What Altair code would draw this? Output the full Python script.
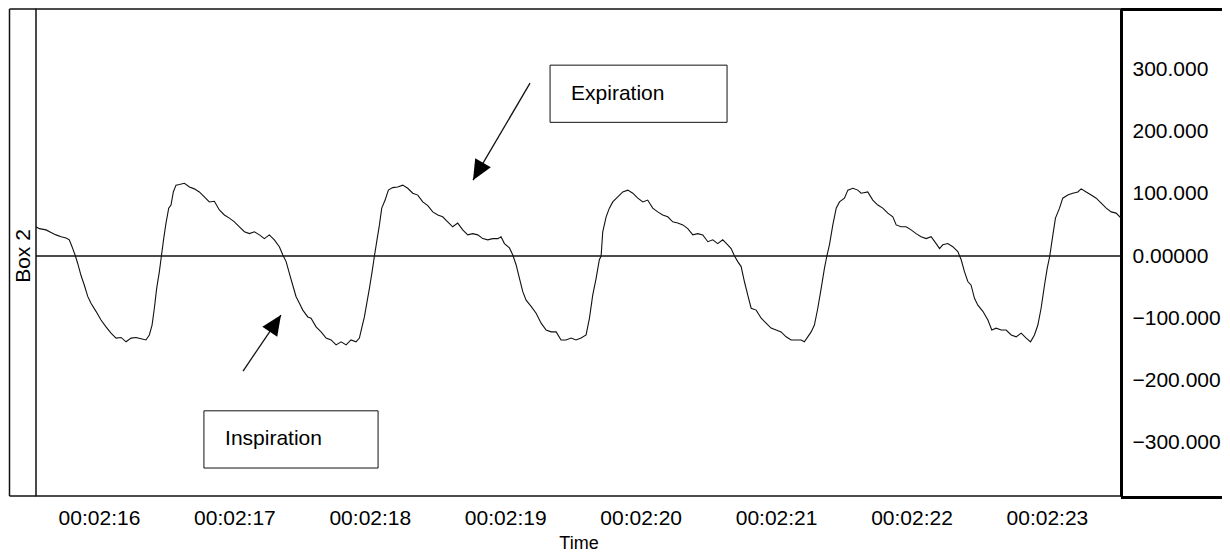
import altair as alt
import pandas as pd

# ---- signal readings (time in seconds of 00:02:xx, value) ----
t_a = [15.535, 15.560, 15.609, 15.646, 15.683, 15.720, 15.757, 15.781, 15.801, 15.826,
       15.843, 15.867, 15.892, 15.917, 15.941, 15.978, 16.015, 16.052, 16.089, 16.126,
       16.163, 16.200, 16.237, 16.274, 16.311, 16.347, 16.372, 16.392, 16.409, 16.426,
       16.446, 16.461, 16.478, 16.495, 16.515, 16.532, 16.549, 16.569, 16.594, 16.631,
       16.668, 16.704, 16.741, 16.778, 16.815, 16.852, 16.889, 16.926, 16.963, 17.000,
       17.037, 17.074, 17.111, 17.148, 17.185, 17.221, 17.258, 17.295, 17.332, 17.357,
       17.382, 17.406, 17.431, 17.455, 17.480, 17.505, 17.542]
v_a = [47, 44, 42, 38, 34, 31, 29, 26, 15, 0,
       -12, -31, -47, -65, -76, -89, -103, -114, -124, -132,
       -131, -138, -132, -131, -133, -135, -127, -111, -84, -52,
       -25, 0, 28, 53, 77, 82, 103, 114, 115, 117,
       111, 108, 103, 95, 87, 88, 74, 66, 61, 55,
       47, 39, 36, 39, 34, 28, 34, 26, 15, 2,
       -9, -28, -47, -65, -76, -87, -98]

t_b = [17.566, 17.603, 17.640, 17.677, 17.714, 17.751, 17.788, 17.825, 17.861, 17.898,
       17.923, 17.940, 17.960, 17.980, 17.997, 18.017, 18.034, 18.053, 18.071, 18.088,
       18.113, 18.137, 18.169, 18.206, 18.243, 18.280, 18.317, 18.354, 18.391, 18.428,
       18.465, 18.502, 18.538, 18.575, 18.612, 18.649, 18.686, 18.723, 18.760, 18.797,
       18.834, 18.871, 18.908, 18.945, 18.969, 18.994, 19.031, 19.055, 19.080, 19.105,
       19.129, 19.154, 19.191, 19.228, 19.265, 19.302, 19.339, 19.376, 19.412, 19.449,
       19.486, 19.523, 19.560]
v_b = [-100, -114, -122, -132, -135, -143, -138, -143, -135, -138,
       -132, -116, -98, -73, -52, -25, 0, 26, 50, 77,
       90, 106, 110, 111, 114, 109, 101, 98, 87, 81,
       71, 66, 63, 55, 47, 53, 42, 34, 36, 34,
       28, 26, 28, 28, 31, 20, 13, 2, -14, -36,
       -57, -71, -81, -92, -108, -119, -122, -122, -135, -135,
       -132, -135, -132]

t_c = [19.597, 19.622, 19.646, 19.671, 19.695, 19.708, 19.720, 19.745, 19.769, 19.794,
       19.831, 19.868, 19.905, 19.942, 19.979, 20.016, 20.052, 20.089, 20.126, 20.163,
       20.200, 20.237, 20.274, 20.311, 20.348, 20.385, 20.422, 20.459, 20.496, 20.533,
       20.569, 20.606, 20.643, 20.668, 20.693, 20.717, 20.742, 20.766, 20.791, 20.816,
       20.853, 20.890, 20.926, 20.963, 21.000, 21.037, 21.074, 21.111, 21.148, 21.185,
       21.209, 21.234, 21.259, 21.283, 21.308, 21.333, 21.357, 21.375, 21.394, 21.419,
       21.444, 21.468, 21.505, 21.530, 21.567, 21.603]
v_c = [-127, -100, -63, -36, -6, 0, 39, 63, 77, 87,
       95, 103, 106, 101, 93, 87, 90, 77, 71, 66,
       63, 55, 53, 50, 44, 34, 36, 34, 23, 26,
       20, 26, 18, 12, 0, -9, -17, -41, -63, -84,
       -87, -100, -108, -116, -119, -122, -130, -135, -135, -135,
       -138, -130, -122, -111, -84, -52, -20, 0, 18, 50,
       77, 87, 93, 106, 109, 106]

t_d = [21.628, 21.677, 21.714, 21.751, 21.788, 21.825, 21.862, 21.887, 21.923, 21.960,
       21.997, 22.034, 22.071, 22.108, 22.145, 22.182, 22.207, 22.231, 22.268, 22.305,
       22.342, 22.367, 22.391, 22.416, 22.440, 22.465, 22.490, 22.527, 22.564, 22.593,
       22.625, 22.662, 22.699, 22.736, 22.773, 22.810, 22.847, 22.879, 22.908, 22.933,
       22.957, 22.982, 23.002, 23.021, 23.044, 23.063, 23.093, 23.117, 23.154, 23.191,
       23.228, 23.253, 23.290, 23.327, 23.364, 23.401, 23.438, 23.475, 23.511, 23.547]
v_d = [101, 103, 90, 82, 77, 69, 63, 50, 47, 47,
       42, 36, 31, 28, 31, 20, 12, 18, 20, 15,
       7, -6, -25, -41, -47, -68, -79, -89, -103, -119,
       -116, -119, -119, -127, -130, -124, -132, -138, -127, -111,
       -84, -47, -20, 0, 34, 61, 77, 93, 98, 101,
       103, 108, 103, 98, 93, 85, 77, 71, 69, 61]

times = t_a + t_b + t_c + t_d
values = v_a + v_b + v_c + v_d

x_ticks = [16, 17, 18, 19, 20, 21, 22, 23]
y_ticks = [-300, -200, -100, 0, 100, 200, 300]
x_domain = [15.535, 23.547]
y_domain = [-386, 397.3]

# annotations (in data units)
box_t = [19.331, 16.775]
box_t2 = [20.638, 18.061]
box_v = [307, -249]
box_v2 = [215, -341]
label_text = ["Expiration", "Inspiration"]
label_t = [19.486, 16.931]
label_v = [260, -294]
arrow_t = [19.183, 17.064]
arrow_v = [278, -185]
tip_t = [18.762, 17.344]
tip_v = [122, -95]
tip_angle = [210, 34]

signal = pd.DataFrame({"t": times, "v": values})
boxes = pd.DataFrame({"t": box_t, "t2": box_t2, "v": box_v, "v2": box_v2})
labels = pd.DataFrame({"t": label_t, "v": label_v, "label": label_text})
arrows = pd.DataFrame({"t": arrow_t, "v": arrow_v, "t2": tip_t, "v2": tip_v})
heads = pd.DataFrame({"t": tip_t, "v": tip_v, "angle": tip_angle})
zero = pd.DataFrame({"v": [0]})
ylab = pd.DataFrame({"v": [0], "label": ["Box 2"]})

W, H = 1085, 487
FONT = "Liberation Sans"
INK = "#111111"

xs = alt.Scale(domain=x_domain, nice=False, zero=False)
ys = alt.Scale(domain=y_domain, nice=False, zero=False)

line = alt.Chart(signal).mark_line(color=INK, strokeWidth=1.1, clip=True).encode(
    x=alt.X("t:Q", scale=xs, axis=alt.Axis(
        values=x_ticks,
        labelExpr="'00:02:' + format(datum.value, '02d')",
        title="Time", domain=False, ticks=False, grid=False,
        labelFont=FONT, labelFontSize=21, labelColor="black", labelPadding=11,
        labelOverlap=False, labelFlush=False,
        titleFont=FONT, titleFontSize=18, titleFontWeight="normal",
        titleColor="black", titlePadding=6)),
    y=alt.Y("v:Q", scale=ys, axis=alt.Axis(
        orient="right", values=y_ticks,
        labelExpr="datum.value == 0 ? '0.00000' : format(datum.value, '.3f')",
        title=None, ticks=False, grid=False,
        domain=True, domainColor="black", domainWidth=3,
        labelFont=FONT, labelFontSize=21, labelColor="black",
        labelPadding=11, labelAlign="left", labelOverlap=False, labelFlush=False)),
)

zero_line = alt.Chart(zero).mark_rule(color=INK, strokeWidth=1.3).encode(
    y=alt.Y("v:Q")
)

rects = alt.Chart(boxes).mark_rect(fill="white", stroke=INK, strokeWidth=1).encode(
    x="t:Q", x2="t2:Q", y="v:Q", y2="v2:Q"
)

texts = alt.Chart(labels).mark_text(
    align="left", baseline="middle", font=FONT, fontSize=21, color="black"
).encode(x="t:Q", y="v:Q", text="label:N")

arrow_lines = alt.Chart(arrows).mark_rule(color=INK, strokeWidth=1.3).encode(
    x="t:Q", y="v:Q", x2="t2:Q", y2="v2:Q"
)

arrow_heads = alt.Chart(heads).mark_point(
    shape="M0,0L-0.45,1L0.45,1Z", filled=True, size=1600, color="black", opacity=1
).encode(x="t:Q", y="v:Q", angle=alt.Angle("angle:Q", scale=None))

box_label = alt.Chart(ylab).mark_text(
    angle=270, align="center", baseline="middle", font=FONT, fontSize=21, color="black"
).encode(x=alt.value(-12.5), y="v:Q", text="label:N")

one = alt.Data(values=[{}])
frame_left = alt.Chart(one).mark_rule(color=INK, strokeWidth=1.5).encode(
    x=alt.value(-26.5), y=alt.value(0), y2=alt.value(H))
frame_top = alt.Chart(one).mark_rule(color=INK, strokeWidth=1.5).encode(
    x=alt.value(-26.5), x2=alt.value(0), y=alt.value(0))
frame_bottom = alt.Chart(one).mark_rule(color=INK, strokeWidth=1.5).encode(
    x=alt.value(-26.5), x2=alt.value(0), y=alt.value(H))
thick_top = alt.Chart(one).mark_rule(color="black", strokeWidth=3).encode(
    x=alt.value(W), x2=alt.value(W + 101), y=alt.value(0.5))
thick_bottom = alt.Chart(one).mark_rule(color="black", strokeWidth=3).encode(
    x=alt.value(W), x2=alt.value(W + 101), y=alt.value(H + 1.5))

chart = alt.layer(
    zero_line, line, arrow_lines, arrow_heads, rects, texts, box_label,
    frame_left, frame_top, frame_bottom, thick_top, thick_bottom
).properties(
    width=W, height=H,
    autosize="none",
    padding={"left": 28, "top": 1, "right": 101, "bottom": 58},
    background="white",
).configure_view(stroke=INK, strokeWidth=1.5)

chart.save("out.html", embed_options={"renderer": "svg", "actions": False})
